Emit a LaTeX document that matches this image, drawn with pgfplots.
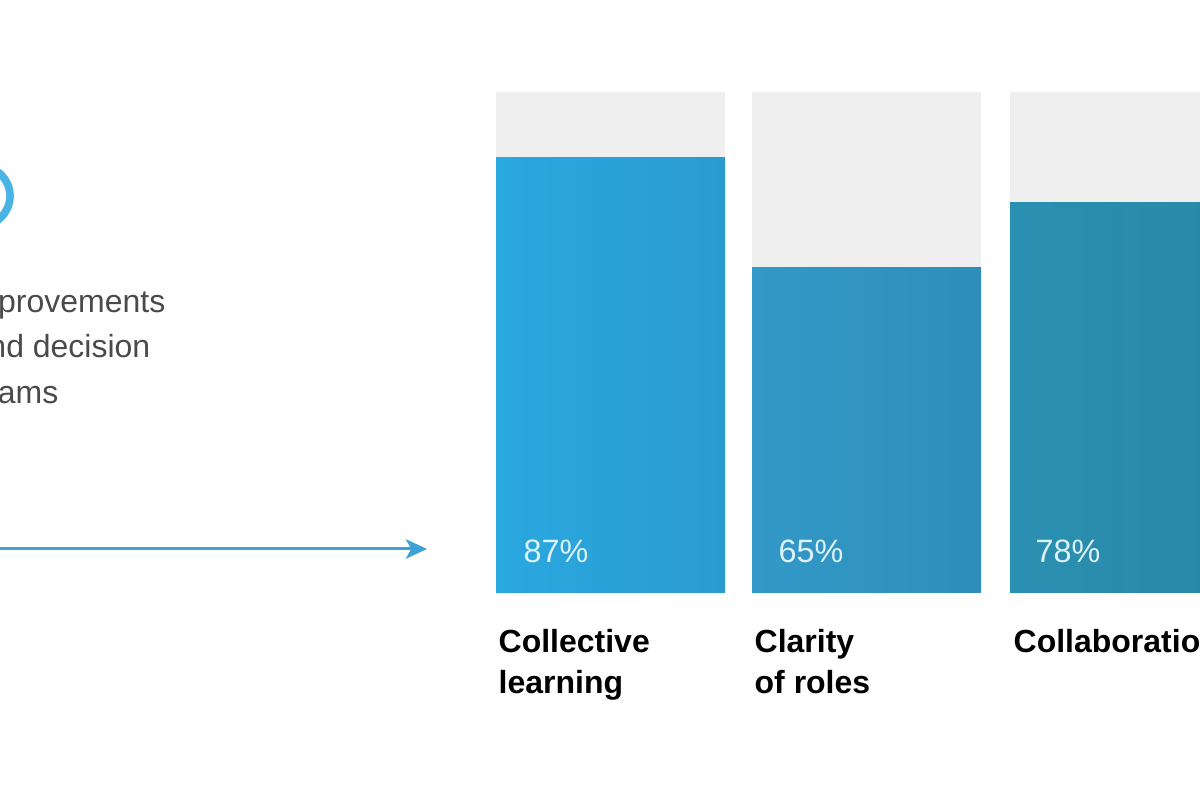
\documentclass[border=0pt]{standalone}
\usepackage{pgfplots}
\pgfplotsset{compat=1.18}
\usepackage{fontspec}
\setmainfont{Liberation Sans}
\usetikzlibrary{arrows.meta}
\definecolor{bggray}{HTML}{EFEFEF}
\definecolor{bAl}{HTML}{2AA8E0}
\definecolor{bAr}{HTML}{2A9BD0}
\definecolor{bBl}{HTML}{3399C8}
\definecolor{bBr}{HTML}{2E8EB9}
\definecolor{bCl}{HTML}{2A90B2}
\definecolor{bCr}{HTML}{2B88A6}
\definecolor{pct}{HTML}{DDF2FA}
\definecolor{arrowblue}{HTML}{3CA2D6}
\definecolor{txtgray}{HTML}{4A4A4A}
\begin{document}
\begin{tikzpicture}
\begin{axis}[
  width=12cm, height=8cm, scale only axis,
  xmin=0, xmax=1200, ymin=-41.32, ymax=118.36,
  hide axis, clip=true]
% background (100%) bars
\addplot[ybar, bar width=229, bar shift=0pt, draw=none, fill=bggray]
  coordinates {(610.5,100) (866.5,100) (1124.5,100)};
% value bars
\addplot[ybar, bar width=229, bar shift=0pt, draw=none, left color=bAl, right color=bAr]
  coordinates {(610.5,87)};
\addplot[ybar, bar width=229, bar shift=0pt, draw=none, left color=bBl, right color=bBr]
  coordinates {(866.5,65)};
\addplot[ybar, bar width=229, bar shift=0pt, draw=none, left color=bCl, right color=bCr]
  coordinates {(1124.5,78)};
% arrow
\addplot[draw=arrowblue, line width=0.85pt, -{Stealth[length=6pt,width=5.5pt,inset=1.5pt]}]
  coordinates {(0,8.78) (427,8.78)};
% partial ring at top-left
\draw[line width=2.2pt, color=bAl!85] (axis cs:-20,79.24) circle [radius=0.3cm];
% value labels
\node[anchor=base west, inner sep=0pt, text=pct, font=\fontsize{9.2}{11}\selectfont] at (axis cs:523,5.99) {87\%};
\node[anchor=base west, inner sep=0pt, text=pct, font=\fontsize{9.2}{11}\selectfont] at (axis cs:778,5.99) {65\%};
\node[anchor=base west, inner sep=0pt, text=pct, font=\fontsize{9.2}{11}\selectfont] at (axis cs:1035,5.99) {78\%};
% category labels
\node[anchor=base west, inner sep=0pt, font=\fontsize{9.1}{11}\selectfont\bfseries] at (axis cs:498,-11.98) {Collective};
\node[anchor=base west, inner sep=0pt, font=\fontsize{9.1}{11}\selectfont\bfseries] at (axis cs:498,-20.16) {learning};
\node[anchor=base west, inner sep=0pt, font=\fontsize{9.1}{11}\selectfont\bfseries] at (axis cs:754,-11.98) {Clarity};
\node[anchor=base west, inner sep=0pt, font=\fontsize{9.1}{11}\selectfont\bfseries] at (axis cs:754,-20.16) {of roles};
\node[anchor=base west, inner sep=0pt, font=\fontsize{9.1}{11}\selectfont\bfseries] at (axis cs:1013,-11.98) {Collaboration};
% left text (cut off at the left edge, as in the reference)
\node[anchor=base east, inner sep=0pt, text=txtgray, font=\fontsize{9.1}{11}\selectfont] at (axis cs:166,55.9) {improvements};
\node[anchor=base east, inner sep=0pt, text=txtgray, font=\fontsize{9.1}{11}\selectfont] at (axis cs:151,46.9) {and decision};
\node[anchor=base east, inner sep=0pt, text=txtgray, font=\fontsize{9.1}{11}\selectfont] at (axis cs:59,37.9) {teams};
\coordinate (SW) at (rel axis cs:0,0);
\coordinate (NE) at (rel axis cs:1,1);
\end{axis}
\pgfresetboundingbox
\useasboundingbox (SW) rectangle (NE);
\end{tikzpicture}
\end{document}
